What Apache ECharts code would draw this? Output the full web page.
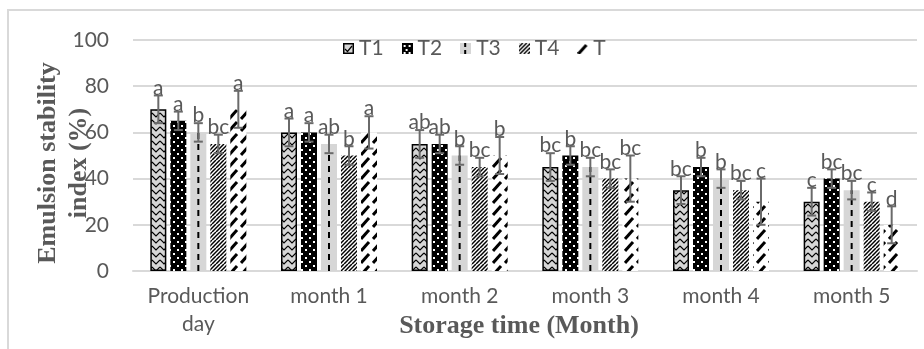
<!DOCTYPE html>
<html>
<head>
<meta charset="utf-8">
<script src="https://cdn.jsdelivr.net/npm/echarts@6/dist/echarts.min.js"></script>
<style>
  html, body { margin: 0; padding: 0; background: #ffffff; }
  #chart { width: 924px; height: 349px; }
</style>
</head>
<body>
<div id="chart"></div>
<script>
// Storage time categories
const categories = ['Production\nday', 'month 1', 'month 2', 'month 3', 'month 4', 'month 5'];
const seriesNames = ['T1', 'T2', 'T3', 'T4', 'T'];

// Emulsion stability index (%) per treatment
const valuesT1 = [70, 60, 55, 45, 35, 30];
const valuesT2 = [65, 60, 55, 50, 45, 40];
const valuesT3 = [60, 55, 50, 45, 40, 35];
const valuesT4 = [55, 50, 45, 40, 35, 30];
const valuesT  = [70, 60, 50, 40, 30, 20];

// Error bar half-lengths
const errorsT1 = [6, 6, 6, 6, 6, 6];
const errorsT2 = [4, 4, 4, 4, 4, 4];
const errorsT3 = [4, 4, 4, 4, 4, 4];
const errorsT4 = [4, 4, 4, 4, 4, 4];
const errorsT  = [8, 7, 8, 10, 10, 8];

// Significance letters
const lettersT1 = ['a', 'a', 'ab', 'bc', 'bc', 'c'];
const lettersT2 = ['a', 'a', 'ab', 'b', 'b', 'bc'];
const lettersT3 = ['b', 'ab', 'b', 'bc', 'b', 'bc'];
const lettersT4 = ['bc', 'b', 'bc', 'bc', 'bc', 'c'];
const lettersT  = ['a', 'a', 'b', 'bc', 'c', 'd'];

// Y axis ticks
const yTicks = [0, 20, 40, 60, 80, 100];

const allValues = [valuesT1, valuesT2, valuesT3, valuesT4, valuesT];
const allErrors = [errorsT1, errorsT2, errorsT3, errorsT4, errorsT];
const allLetters = [lettersT1, lettersT2, lettersT3, lettersT4, lettersT];

const GRAY_FILL = '#d6d6d6';
const TEXT_COLOR = '#595959';
const LINE_COLOR = '#d9d9d9';
const BAR_WIDTH = 16;
const BAR_STEP = 20;
const FONT_SIZE = 21;

function makeCanvas(w, h, draw) {
  const c = document.createElement('canvas');
  c.width = w; c.height = h;
  const g = c.getContext('2d');
  draw(g, w, h);
  return c;
}

// Fill patterns
function drawZigzag(g, w, h) {
  g.fillStyle = GRAY_FILL; g.fillRect(0, 0, w, h);
  g.strokeStyle = '#000'; g.lineWidth = 1.1;
  for (let y = -7; y < h + 7; y += 7) {
    g.beginPath();
    for (let x = 0; x <= w; x += 8) {
      g.moveTo(x, y + 1); g.lineTo(x + 4, y + 5); g.lineTo(x + 8, y + 1);
    }
    g.stroke();
  }
}
function drawDots(g, w, h) {
  g.fillStyle = '#000'; g.fillRect(0, 0, w, h);
  g.fillStyle = '#fff';
  for (let y = 0; y < h; y += 8) {
    for (let x = 0; x < w; x += 8) {
      g.fillRect(x + 1, y + 1, 2, 2);
      g.fillRect(x + 5, y + 5, 2, 2);
    }
  }
}
function drawFineDiag(g, w, h) {
  g.fillStyle = '#fff'; g.fillRect(0, 0, w, h);
  g.strokeStyle = '#000'; g.lineWidth = 1.5;
  for (let k = -h; k < w + h; k += 4) {
    g.beginPath(); g.moveTo(k, h); g.lineTo(k + h, 0); g.stroke();
  }
}
function drawWideDash(g, w, h) {
  g.fillStyle = '#fff'; g.fillRect(0, 0, w, h);
  g.strokeStyle = '#000'; g.lineWidth = 3; g.lineCap = 'butt';
  g.beginPath(); g.moveTo(1, 11); g.lineTo(9, 2); g.stroke();
}

const patT1 = makeCanvas(16, 14, drawZigzag);
const patT2 = makeCanvas(8, 8, drawDots);
const patT4 = makeCanvas(8, 8, drawFineDiag);
const patT  = makeCanvas(12, 12, drawWideDash);

// Legend icons
const iconT1 = makeCanvas(11, 11, (g, w, h) => {
  g.fillStyle = GRAY_FILL; g.fillRect(0, 0, w, h);
  g.strokeStyle = '#000'; g.lineWidth = 1.2;
  g.beginPath(); g.moveTo(2, 6); g.lineTo(4.5, 8.5); g.lineTo(9, 3); g.stroke();
  g.lineWidth = 1.5; g.strokeRect(0.75, 0.75, w - 1.5, h - 1.5);
}).toDataURL();
const iconT2 = makeCanvas(11, 11, (g, w, h) => {
  g.fillStyle = '#000'; g.fillRect(0, 0, w, h);
  g.fillStyle = '#fff';
  g.fillRect(2, 2, 2, 2); g.fillRect(7, 2, 2, 2); g.fillRect(4, 6, 2, 2); g.fillRect(2, 9, 2, 2); g.fillRect(7, 9, 2, 2);
}).toDataURL();
const iconT3 = makeCanvas(11, 11, (g, w, h) => {
  g.fillStyle = GRAY_FILL; g.fillRect(0, 0, w, h);
  g.fillStyle = '#000'; g.fillRect(4, 0, 2, 4); g.fillRect(4, 7, 2, 4);
}).toDataURL();
const iconT4 = makeCanvas(11, 11, drawFineDiag).toDataURL();
const iconT = makeCanvas(11, 11, (g, w, h) => {
  g.fillStyle = '#fff'; g.fillRect(0, 0, w, h);
  g.strokeStyle = '#000'; g.lineWidth = 3;
  g.beginPath(); g.moveTo(1, 11); g.lineTo(9, 2); g.stroke();
}).toDataURL();

const barStyles = [
  { color: { image: patT1, repeat: 'repeat' }, borderColor: '#000', borderWidth: 1.5 },
  { color: { image: patT2, repeat: 'repeat' } },
  { color: GRAY_FILL },
  { color: { image: patT4, repeat: 'repeat' } },
  { color: { image: patT, repeat: 'repeat' } }
];
const legendIcons = [iconT1, iconT2, iconT3, iconT4, iconT];

const barSeries = seriesNames.map((name, si) => ({
  name: name,
  type: 'bar',
  barWidth: BAR_WIDTH,
  barGap: '25%',
  itemStyle: barStyles[si],
  emphasis: { disabled: true },
  data: allValues[si]
}));

// Error bars, letters and the dashed centre stroke of T3
const overlayData = [];
seriesNames.forEach((name, si) => {
  allValues[si].forEach((v, ci) => overlayData.push([ci, si, v]));
});

const overlaySeries = {
  type: 'custom',
  silent: true,
  z: 5,
  encode: { x: 0, y: 2 },
  data: overlayData,
  renderItem: function (params, api) {
    const ci = api.value(0);
    const si = api.value(1);
    const v = allValues[si][ci];
    const e = allErrors[si][ci];
    const offset = (si - 2) * BAR_STEP;
    const x = api.coord([ci, v])[0] + offset;
    const yVal = api.coord([ci, v])[1];
    const yZero = api.coord([ci, 0])[1];
    const yHi = api.coord([ci, v + e])[1];
    const yLo = api.coord([ci, v - e])[1];
    const children = [];
    if (si === 2) {
      children.push({
        type: 'line',
        shape: { x1: x, y1: yZero, x2: x, y2: yVal },
        style: { stroke: '#000', lineWidth: 2, lineDash: [6, 5] }
      });
    }
    const errStyle = { stroke: '#6a6a6a', lineWidth: 2 };
    children.push({ type: 'line', shape: { x1: x, y1: yHi, x2: x, y2: yLo }, style: errStyle });
    children.push({ type: 'line', shape: { x1: x - 4.5, y1: yHi, x2: x + 4.5, y2: yHi }, style: errStyle });
    children.push({ type: 'line', shape: { x1: x - 4.5, y1: yLo, x2: x + 4.5, y2: yLo }, style: errStyle });
    children.push({
      type: 'text',
      style: {
        text: allLetters[si][ci],
        x: x, y: yHi + 3,
        align: 'center', verticalAlign: 'bottom',
        textAlign: 'center', textVerticalAlign: 'bottom',
        font: FONT_SIZE + 'px Lato',
        fill: TEXT_COLOR
      }
    });
    return { type: 'group', children: children };
  }
};

const chart = echarts.init(document.getElementById('chart'), null, { renderer: 'canvas' });
chart.setOption({
  animation: false,
  backgroundColor: '#ffffff',
  textStyle: { fontFamily: 'Lato' },
  grid: { left: 133, right: 7, top: 40, bottom: 78, containLabel: false, outerBoundsMode: 'none' },
  legend: {
    left: 338, top: 33,
    itemWidth: 11, itemHeight: 11, itemGap: 18,
    selectedMode: false,
    textStyle: { fontFamily: 'Lato', fontSize: FONT_SIZE, color: TEXT_COLOR },
    data: seriesNames.map((n, i) => ({ name: n, icon: 'image://' + legendIcons[i] }))
  },
  xAxis: {
    type: 'category',
    data: categories,
    axisLine: { show: true, lineStyle: { color: LINE_COLOR, width: 2 } },
    axisTick: { show: false },
    axisLabel: { interval: 0, margin: 11, fontFamily: 'Lato', fontSize: FONT_SIZE, lineHeight: 28, color: TEXT_COLOR }
  },
  yAxis: {
    type: 'value',
    min: yTicks[0], max: yTicks[yTicks.length - 1], interval: yTicks[1] - yTicks[0],
    axisLine: { show: false },
    axisTick: { show: false },
    splitLine: { lineStyle: { color: LINE_COLOR, width: 2 } },
    axisLabel: { margin: 24, fontFamily: 'Lato', fontSize: FONT_SIZE, color: TEXT_COLOR }
  },
  graphic: [
    {
      type: 'rect', silent: true, z: -1,
      shape: { x: 8, y: 10, width: 1000, height: 1000 },
      style: { fill: 'none', stroke: LINE_COLOR, lineWidth: 2 }
    },
    {
      type: 'text', silent: true,
      x: 64, y: 163, rotation: Math.PI / 2,
      style: {
        text: 'Emulsion stability\nindex (%)',
        font: 'bold 26px "Liberation Serif"',
        lineHeight: 31,
        align: 'center', verticalAlign: 'middle',
        fill: TEXT_COLOR
      }
    },
    {
      type: 'text', silent: true,
      x: 519, y: 326,
      style: {
        text: 'Storage time (Month)',
        font: 'bold 26px "Liberation Serif"',
        align: 'center', verticalAlign: 'middle',
        fill: TEXT_COLOR
      }
    }
  ],
  series: barSeries.concat([overlaySeries])
});
</script>
</body>
</html>
